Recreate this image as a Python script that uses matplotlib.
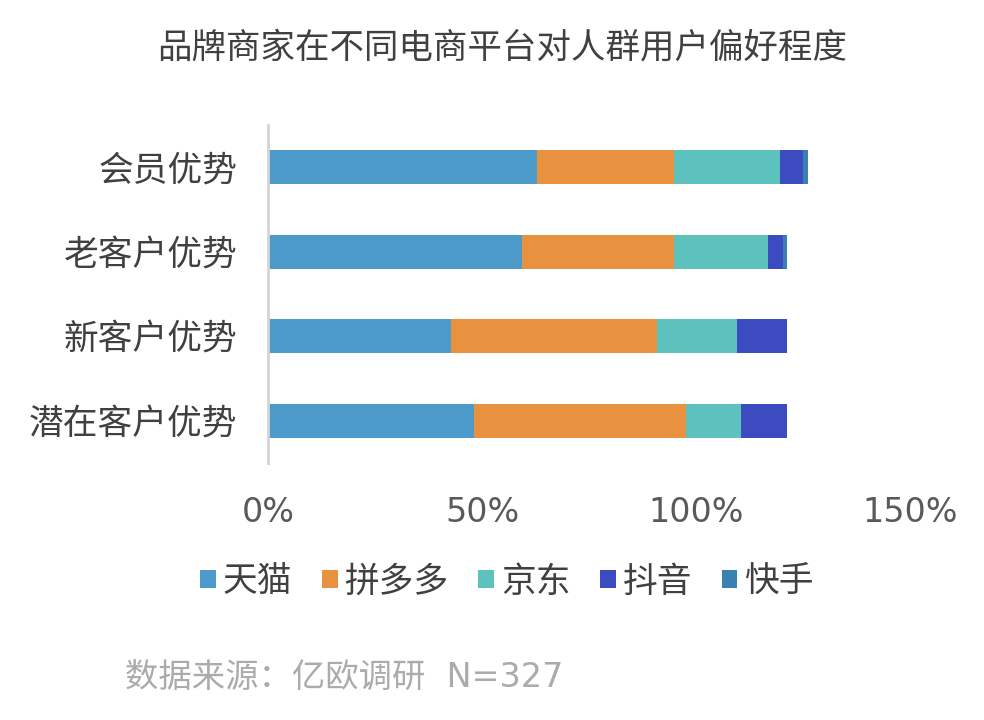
import matplotlib
matplotlib.use("Agg")
import matplotlib.pyplot as plt
from matplotlib.patches import Patch
import numpy as np

plt.rcParams['font.family'] = ['Noto Sans CJK SC', 'DejaVu Sans']

categories = ['会员优势', '老客户优势', '新客户优势', '潜在客户优势']
series_names = ['天猫', '拼多多', '京东', '抖音', '快手']
tmall = [62.9, 59.3, 42.8, 48.2]
pdd = [32.0, 35.6, 48.2, 49.4]
jd = [24.7, 21.9, 18.6, 12.9]
douyin = [5.4, 3.6, 11.7, 10.8]
kuaishou = [1.1, 0.9, 0.0, 0.0]
xticks = [0, 50, 100, 150]
xtick_labels = ['0%', '50%', '100%', '150%']
title = '品牌商家在不同电商平台对人群用户偏好程度'
source = '数据来源：亿欧调研  N=327'

colors = ['#4C9BCA', '#E8913F', '#5DC1BE', '#3D4BC0', '#3A80B2']
series = [tmall, pdd, jd, douyin, kuaishou]

fig = plt.figure(figsize=(9.84, 7.2), dpi=100)
ax = fig.add_axes([268/984, 1-463/720, (910-268)/984, (463-125)/720])

y = np.arange(len(categories))[::-1]
left = np.zeros(len(categories))
for vals, c, name in zip(series, colors, series_names):
    ax.barh(y, vals, left=left, height=0.4, color=c, label=name)
    left = left + np.array(vals)

ax.set_xlim(0, 150)
ax.set_ylim(-0.5, 3.5)
ax.set_yticks(y)
ax.set_yticklabels(categories, fontsize=25, color='#404040')
ax.set_xticks(xticks)
ax.set_xticklabels(xtick_labels, fontsize=24, color='#595959', family=['DejaVu Sans'])
ax.tick_params(axis='both', length=0)
ax.tick_params(axis='y', pad=22)
ax.tick_params(axis='x', pad=24)
for s in ['top', 'right', 'bottom']:
    ax.spines[s].set_visible(False)
ax.spines['left'].set_color('#d4d4d4')
ax.spines['left'].set_linewidth(2)

fig.text(502/984, 1-48/720, title, ha='center', va='center', fontsize=24.8, color='#404040')

handles = [Patch(facecolor=c, edgecolor='none') for c in colors]
fig.legend(handles, series_names, loc='center', bbox_to_anchor=(507/984, 1-582/720),
           ncol=5, frameon=False, fontsize=25, handlelength=0.45, handleheight=0.45,
           handletextpad=0.2, columnspacing=0.85, labelcolor='#404040')

fig.text(125/984, 1-677/720, source, ha='left', va='center', fontsize=24, color='#ababab',
         family=['DejaVu Sans', 'Noto Sans CJK SC'])

fig.savefig('out.png', dpi=100, facecolor='white')
